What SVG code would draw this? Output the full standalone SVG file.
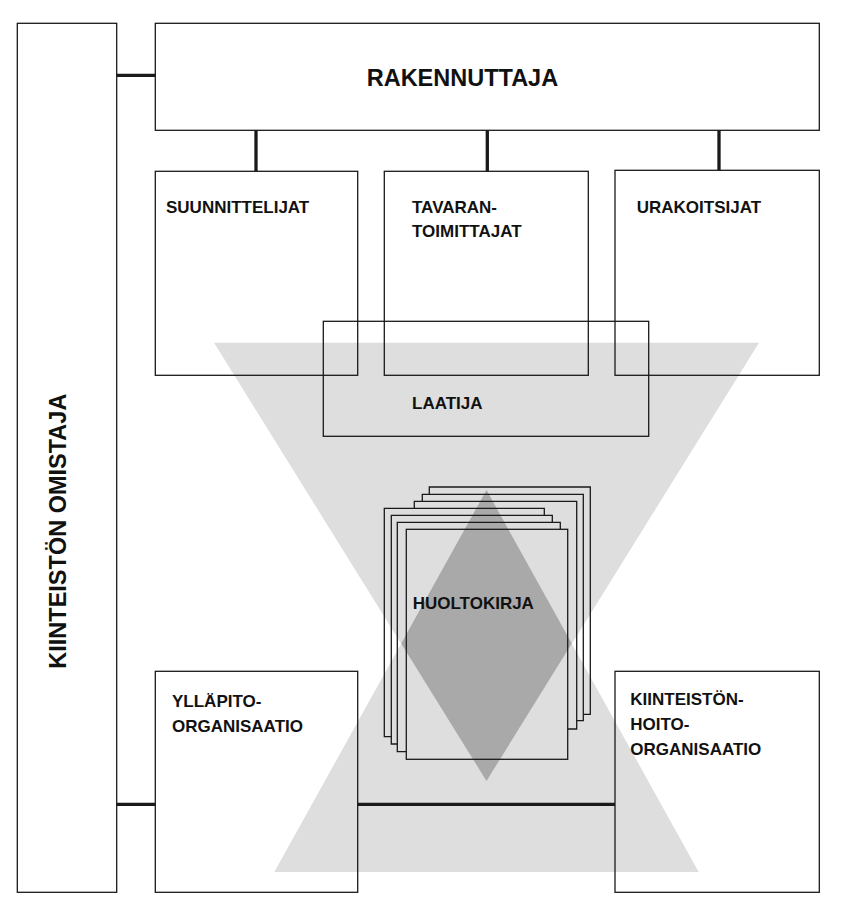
<svg xmlns="http://www.w3.org/2000/svg" width="846" height="917" viewBox="0 0 846 917">
<style>
.box{fill:none;stroke:#1a1a1a;stroke-width:1.3}
.page{fill:none;stroke:#1a1a1a;stroke-width:1.3}
.conn{stroke:#1a1a1a;stroke-width:3.3;fill:none}
.t{font-family:"Liberation Sans",Arial,Helvetica,sans-serif;font-weight:bold;fill:#111;font-size:17px}
.big{font-size:23.5px}
</style>
<rect width="846" height="917" fill="#ffffff"/>
<g id="funnel">
<polygon points="214,342.7 759,342.7 486.5,781" fill="#dedede"/>
<polygon points="274.3,872 698.7,872 486.5,490" fill="#dedede"/>
<polygon points="486.5,490 571.8,643.6 486.5,781 401.2,643.6" fill="#a9a9a9"/>
</g>
<g id="connectors">
<line class="conn" x1="116.7" y1="75.3" x2="155.3" y2="75.3"/>
<line class="conn" x1="256" y1="130.3" x2="256" y2="171.3"/>
<line class="conn" x1="487.3" y1="130.3" x2="487.3" y2="171.3"/>
<line class="conn" x1="719" y1="130.3" x2="719" y2="170.3"/>
<line class="conn" x1="116.7" y1="804.3" x2="155.3" y2="804.3"/>
<line class="conn" x1="357.7" y1="804.3" x2="615" y2="804.3"/>
</g>
<g id="omistaja">
<rect class="box" x="17.3" y="23.3" width="99.4" height="869"/>
<text class="t big" transform="translate(65.7,668.7) rotate(-90)">KIINTEISTÖN OMISTAJA</text>
</g>
<g id="rakennuttaja">
<rect class="box" x="155.3" y="23.3" width="664" height="107"/>
<text class="t big" x="366.7" y="86">RAKENNUTTAJA</text>
</g>
<g id="suunnittelijat">
<rect class="box" x="155.3" y="171.3" width="202.4" height="204"/>
<text class="t" x="166" y="213">SUUNNITTELIJAT</text>
</g>
<g id="tavarantoimittajat">
<rect class="box" x="384.3" y="171.3" width="204" height="204"/>
<text class="t" x="412" y="213">TAVARAN-</text>
<text class="t" x="412" y="237.3">TOIMITTAJAT</text>
</g>
<g id="urakoitsijat">
<rect class="box" x="615" y="170.3" width="204.3" height="205"/>
<text class="t" x="636.7" y="213">URAKOITSIJAT</text>
</g>
<g id="laatija">
<rect class="box" x="323.3" y="321.3" width="325.4" height="115"/>
<text class="t" x="412" y="409">LAATIJA</text>
</g>
<g id="huoltokirja">
<path class="page" d="M429.3,494.3 V487 H590.3 V714.3 H583.3"/>
<path class="page" d="M422.3,501.3 V494.3 H583.3 V720.7 H576.7"/>
<path class="page" d="M414.3,508.3 V501.3 H576.7 V729 H567.7"/>
<path class="page" d="M391.3,736.7 H384.3 V508.3 H544.3 V515.3"/>
<path class="page" d="M397.3,744 H391.3 V515.3 H552.3 V522.3"/>
<path class="page" d="M406.3,751.7 H397.3 V522.3 H560.3 V529.3"/>
<rect class="page" x="406.3" y="529.3" width="161.4" height="230"/>
<text class="t" x="412.7" y="609.3">HUOLTOKIRJA</text>
</g>
<g id="yllapito">
<rect class="box" x="155.3" y="671.3" width="202.4" height="221"/>
<text class="t" x="172" y="706.7">YLLÄPITO-</text>
<text class="t" x="172" y="731.7">ORGANISAATIO</text>
</g>
<g id="kiinteistonhoito">
<rect class="box" x="615" y="671.3" width="204.3" height="221"/>
<text class="t" x="630.3" y="705">KIINTEISTÖN-</text>
<text class="t" x="630.3" y="730">HOITO-</text>
<text class="t" x="630.3" y="755">ORGANISAATIO</text>
</g>
</svg>
